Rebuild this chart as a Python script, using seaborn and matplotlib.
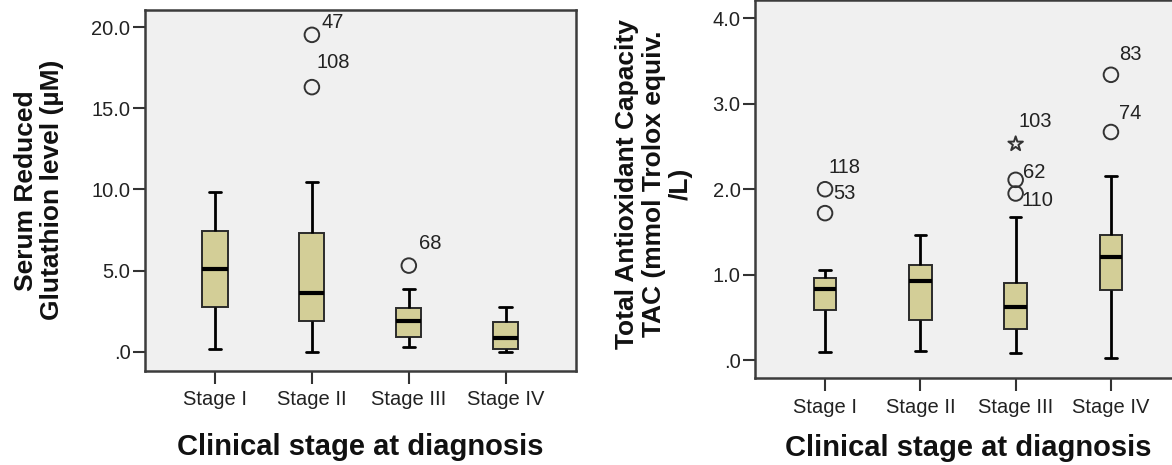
import matplotlib
matplotlib.use("Agg")
import matplotlib.pyplot as plt
import numpy as np
import pandas as pd
import seaborn as sns

# ---------------- data ----------------
stages = ["Stage I", "Stage II", "Stage III", "Stage IV"]

# Serum reduced glutathione (uM): five-number summaries per stage
gsh_low = [0.16, 0.00, 0.29, 0.00]
gsh_q1 = [2.75, 1.87, 0.94, 0.18]
gsh_median = [5.11, 3.61, 1.87, 0.88]
gsh_q3 = [7.45, 7.31, 2.67, 1.81]
gsh_high = [9.87, 10.43, 3.86, 2.79]
gsh_out_stage = ["Stage II", "Stage II", "Stage III"]
gsh_out_value = [19.52, 16.30, 5.31]
gsh_out_case = ["47", "108", "68"]
gsh_out_type = ["outlier", "outlier", "outlier"]
gsh_ticks = [0, 5, 10, 15, 20]
gsh_ticklabels = [".0", "5.0", "10.0", "15.0", "20.0"]

# Total antioxidant capacity (mmol Trolox equiv./L)
tac_low = [0.09, 0.10, 0.085, 0.02]
tac_q1 = [0.58, 0.47, 0.36, 0.82]
tac_median = [0.83, 0.925, 0.62, 1.21]
tac_q3 = [0.96, 1.11, 0.905, 1.46]
tac_high = [1.06, 1.46, 1.68, 2.16]
tac_out_stage = ["Stage I", "Stage I", "Stage III", "Stage III", "Stage III", "Stage IV", "Stage IV"]
tac_out_value = [2.00, 1.72, 2.53, 2.11, 1.95, 3.34, 2.67]
tac_out_case = ["118", "53", "103", "62", "110", "83", "74"]
tac_out_type = ["outlier", "outlier", "extreme", "outlier", "outlier", "outlier", "outlier"]
tac_ticks = [0, 1, 2, 3, 4]
tac_ticklabels = [".0", "1.0", "2.0", "3.0", "4.0"]

x_title = "Clinical stage at diagnosis"
gsh_title = "Serum Reduced\nGlutathion level (\u00b5M)"
tac_title = "Total Antioxidant Capacity\nTAC (mmol Trolox equiv.\n/L)"

# label offsets (pixels) for case numbers
gsh_label_offsets = [(10, 12), (5, 25), (10, 22)]
tac_label_offsets = [(3, 22), (8, 20), (3, 22), (7, 7), (6, -7), (8, 20), (8, 19)]

# ---------------- style ----------------
sns.set_theme(style="white")
plt.rcParams["font.family"] = ["Liberation Sans", "DejaVu Sans"]

BOX = "#d3ce97"
FACE = "#f0f0f0"
DARK = "#333333"


def summary_frame(low, q1, med, q3, high):
    rows = []
    for i, s in enumerate(stages):
        for v in (low[i], q1[i], med[i], q3[i], high[i]):
            rows.append({"stage": s, "value": v})
    return pd.DataFrame(rows)


def draw_panel(ax, summary, out_stage, out_value, out_case, out_type, offsets,
               ticks, ticklabels, ylim, xlim, width, ylabel, ylab_xy, xlab_y):
    sns.boxplot(data=summary, x="stage", y="value", order=stages, ax=ax,
                whis=(0, 100), width=width, color=BOX, saturation=1,
                linecolor="#2b2b2b", linewidth=1.4, showfliers=False,
                medianprops=dict(color="black", linewidth=3),
                whiskerprops=dict(color="black", linewidth=2),
                capprops=dict(color="black", linewidth=2))
    outs = pd.DataFrame({"stage": out_stage, "value": out_value,
                         "case": out_case, "type": out_type})
    for kind, marker, size in (("outlier", "o", 10.5), ("extreme", "*", 11)):
        sub = outs[outs["type"] == kind]
        if len(sub) == 0:
            continue
        sns.stripplot(data=sub, x="stage", y="value", order=stages, ax=ax,
                      jitter=False, marker=marker, size=size, color=DARK,
                      facecolor="none", edgecolor=DARK, linewidth=1.4,
                      legend=False, zorder=4)
    for (st, val, case), off in zip(zip(out_stage, out_value, out_case), offsets):
        ax.annotate(case, xy=(stages.index(st), val), xytext=off,
                    textcoords="offset pixels", ha="left", va="center",
                    fontsize=14.5, color="#222222")

    ax.set_facecolor(FACE)
    ax.set_xlim(*xlim)
    ax.set_ylim(*ylim)
    ax.set_yticks(ticks)
    ax.set_yticklabels(ticklabels)
    ax.grid(False)
    for sp in ax.spines.values():
        sp.set_visible(True)
        sp.set_color("#3c3c3c")
        sp.set_linewidth(1.8)
    ax.tick_params(axis="both", direction="out", bottom=True, left=True,
                   color=DARK, width=1.5, labelsize=14.5, labelcolor="#222222")
    ax.tick_params(axis="x", length=9, pad=5)
    ax.tick_params(axis="y", length=8.5, pad=2)

    ax.set_xlabel(x_title, fontsize=21, fontweight="bold", color="#111111")
    ax.xaxis.label.set_va("center")
    ax.xaxis.set_label_coords(0.5, xlab_y)
    ax.set_ylabel(ylabel, fontsize=19, fontweight="bold", color="#111111",
                  linespacing=1.15)
    ax.yaxis.label.set_va("center")
    ax.yaxis.label.set_ha("center")
    ax.yaxis.set_label_coords(*ylab_xy)


fig = plt.figure(figsize=(11.72, 4.65), dpi=100)
W, H = 1172.0, 465.0
ax1 = fig.add_axes([145 / W, (H - 370.5) / H, 431 / W, 360.5 / H])
ax2 = fig.add_axes([755 / W, (H - 378.3) / H, 426 / W, 377.8 / H])

draw_panel(ax1, summary_frame(gsh_low, gsh_q1, gsh_median, gsh_q3, gsh_high),
           gsh_out_stage, gsh_out_value, gsh_out_case, gsh_out_type,
           gsh_label_offsets, gsh_ticks, gsh_ticklabels,
           ylim=(-1.15, 21.05), xlim=(-0.722, 3.725), width=0.26,
           ylabel=gsh_title, ylab_xy=(-0.246, 0.5), xlab_y=-0.211)

draw_panel(ax2, summary_frame(tac_low, tac_q1, tac_median, tac_q3, tac_high),
           tac_out_stage, tac_out_value, tac_out_case, tac_out_type,
           tac_label_offsets, tac_ticks, tac_ticklabels,
           ylim=(-0.214, 4.21), xlim=(-0.735, 3.735), width=0.24,
           ylabel=tac_title, ylab_xy=(-0.237, 0.514), xlab_y=-0.1845)

fig.savefig("out.png", dpi=100, facecolor="white")
